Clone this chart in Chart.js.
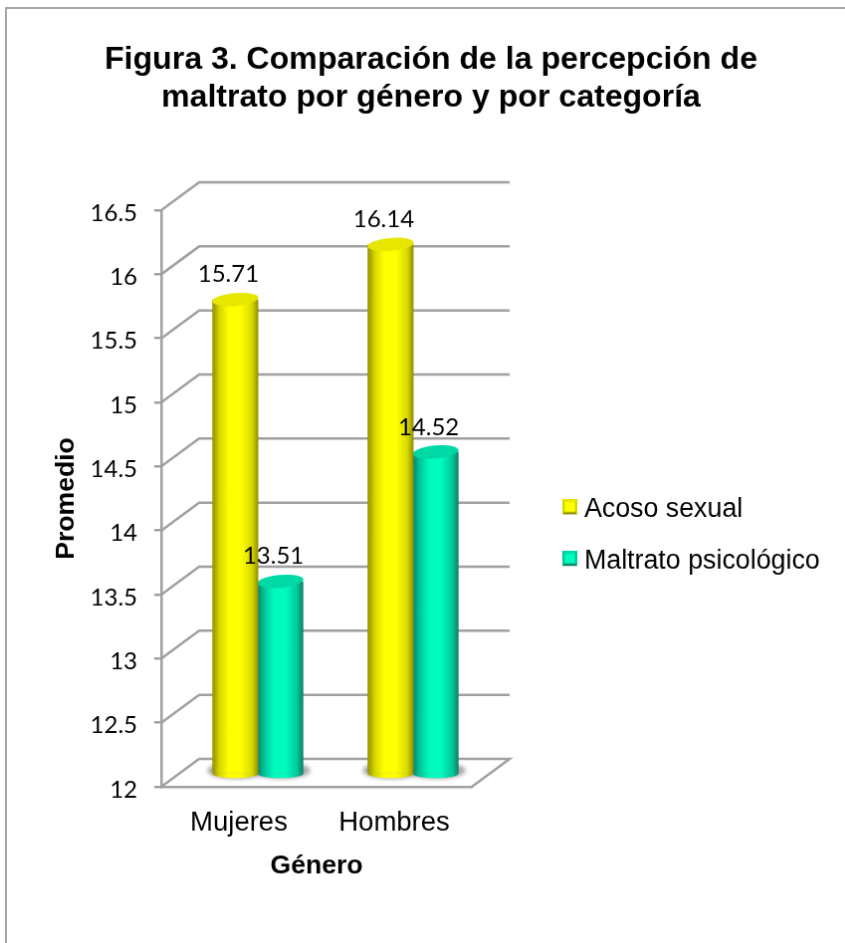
<!DOCTYPE html>
<html><head><meta charset="utf-8">
<style>
html,body{margin:0;padding:0;background:#fff;overflow:hidden;width:845px;height:943px}
#wrap{position:absolute;left:5px;top:7px}
canvas{display:block;border:2px solid #a6a6a6}
</style>
<script src="https://cdn.jsdelivr.net/npm/chart.js@4/dist/chart.umd.min.js"></script>
</head><body>
<div id="wrap"><canvas id="c" width="850" height="960"></canvas></div>
<script>
const titleLines = ['Figura 3. Comparación de la percepción de','maltrato por género y por categoría'];
const categories = ['Mujeres','Hombres'];
const seriesNames = ['Acoso sexual','Maltrato psicológico'];
const acoso = [15.71,16.14];
const maltrato = [13.51,14.52];
const yMin = 12, yMax = 16.5, yStep = 0.5;
const yTitle = 'Promedio', xTitle = 'Género';

const GRID='#a0a0a0';
const DEPTH={x:38,y:-28}, BAR={x:19,y:-12};
const CAT_PCT=0.58, BAR_PCT=1.02;
const PAL=[
 {edge:'#8f8f00',mid:'#d9d900',hi:'#ffff00',cap:'#e6e600'},
 {edge:'#0d7f66',mid:'#00c99c',hi:'#00fbbe',cap:'#00d8a6'}];

function barGrad(ctx,x0,x1,p){
  const g=ctx.createLinearGradient(x0,0,x1,0);
  g.addColorStop(0,p.edge);g.addColorStop(.16,p.mid);g.addColorStop(.36,p.hi);
  g.addColorStop(.62,p.hi);g.addColorStop(.86,p.mid);g.addColorStop(1,p.edge);
  return g;
}
function swatch(p){
  const c=document.createElement('canvas');c.width=15;c.height=21;
  const x=c.getContext('2d');
  x.fillStyle=p.mid;x.fillRect(0,0,15,15);
  x.fillStyle=p.edge;x.beginPath();x.moveTo(0,15);x.lineTo(15,15);x.lineTo(12.5,12.5);x.lineTo(2.5,12.5);x.fill();
  x.fillStyle=p.cap;x.beginPath();x.moveTo(0,0);x.lineTo(15,0);x.lineTo(12.5,2.5);x.lineTo(2.5,2.5);x.fill();
  x.fillStyle=p.hi;x.fillRect(2.5,2.5,10,10);
  return c;
}
const swatches=PAL.map(swatch);

const frame3d={id:'frame3d',
  afterLayout(ch){
    const l=ch.legend,pad=l.options.labels.padding;
    l.left=571.5-7-pad;l.right=ch.width;
    l.top=498.5-9-pad;l.bottom=ch.height;
    const t=ch.titleBlock;t.left=0;t.right=852;
  },
  beforeDatasetsDraw(ch){
    const c=ch.ctx,y=ch.scales.y,a=ch.chartArea;
    c.save();c.strokeStyle=GRID;c.lineWidth=2.5;c.lineJoin='miter';
    y.ticks.forEach(t=>{
      const p=y.getPixelForValue(t.value);
      if(t.value===yMin)return;
      c.beginPath();c.moveTo(a.left,p);c.lineTo(a.left+DEPTH.x,p+DEPTH.y);c.lineTo(a.right+DEPTH.x,p+DEPTH.y);c.stroke();
    });
    const b=y.getPixelForValue(yMin);
    c.beginPath();c.moveTo(a.left,b);c.lineTo(a.left+DEPTH.x,b+DEPTH.y);c.lineTo(a.right+DEPTH.x,b+DEPTH.y);c.lineTo(a.right,b);c.stroke();
    c.filter='blur(2px)';c.fillStyle='#a2a2a2';
    ch.getSortedVisibleDatasetMetas().forEach(m=>m.data.forEach(e=>{
      c.beginPath();c.ellipse(e.x+BAR.x+1,e.base+BAR.y-3,e.width/2+6,8,0,0,Math.PI*2);c.fill();
    }));
    c.restore();
    c.save();c.translate(BAR.x,BAR.y);
  },
  afterDatasetDraw(ch,args){
    const c=ch.ctx,m=args.meta,p=PAL[args.index];
    m.data.forEach(e=>{
      const x0=e.x-e.width/2,x1=e.x+e.width/2,rx=e.width/2;
      c.fillStyle=barGrad(c,x0,x1,p);
      c.beginPath();c.ellipse(e.x,e.base,rx,4.5,0,0,Math.PI);c.fill();
      c.fillStyle=barGrad(c,x0,x1,p);
      c.beginPath();c.ellipse(e.x,e.y,rx,6.5,-0.09,0,Math.PI);c.fill();
      c.fillStyle=p.cap;
      c.beginPath();c.ellipse(e.x,e.y,rx,6.5,-0.09,0,Math.PI*2);c.fill();
    });
  },
  afterDatasetsDraw(ch){
    const c=ch.ctx;c.restore();
    c.save();c.fillStyle='#000';c.font='24px Lato';c.textAlign='center';c.textBaseline='middle';
    ch.getSortedVisibleDatasetMetas().forEach(m=>m.data.forEach((e,i)=>{
      const v=ch.data.datasets[m.index].data[i];
      c.fillText(v.toFixed(2),e.x+BAR.x-7,e.y+BAR.y-25);
    }));
    c.restore();
  }
};

const mk=(i,d)=>({label:seriesNames[i],data:d,borderWidth:0,base:yMin,
  barPercentage:BAR_PCT,categoryPercentage:CAT_PCT,
  backgroundColor(ctx){
    const ch=ctx.chart,xs=ch.scales.x;
    if(!xs||ctx.dataIndex===undefined)return PAL[i].hi;
    const slot=xs.width/categories.length*CAT_PCT/2;
    const cx=xs.getPixelForValue(ctx.dataIndex)+(i-.5)*slot,w=slot*BAR_PCT;
    return barGrad(ch.ctx,cx-w/2,cx+w/2,PAL[i]);
  }});

new Chart(document.getElementById('c'),{
  type:'bar',
  data:{labels:categories,datasets:[mk(0,acoso),mk(1,maltrato)]},
  plugins:[frame3d],
  options:{
    responsive:false,animation:false,
    layout:{padding:{left:44,right:242,top:31.5,bottom:83}},
    plugins:{
      tooltip:{enabled:false},
      title:{display:true,text:titleLines,color:'#000',
        font:{family:'Liberation Sans',size:32.1,weight:'bold',lineHeight:1.2},
        padding:{top:0,bottom:93.5}},
      legend:{position:'right',align:'start',
        labels:{color:'#000',font:{family:'Liberation Sans',size:26.8},padding:25,boxWidth:2,boxHeight:2,
          usePointStyle:true,
          generateLabels(ch){return ch.data.datasets.map((d,i)=>({text:d.label,pointStyle:swatches[i],datasetIndex:i,fontColor:'#000',lineWidth:0,strokeStyle:'transparent'}));}}}
    },
    scales:{
      x:{afterFit(s){s.height=96;},
        grid:{display:false,drawTicks:false},
        border:{color:GRID,width:2.5},
        ticks:{color:'#000',padding:20,font:{family:'Liberation Sans',size:27.5}},
        title:{display:true,text:xTitle,color:'#000',font:{family:'Liberation Sans',size:26.6,weight:'bold'},padding:{top:0,bottom:0}}},
      y:{min:yMin,max:yMax,afterFit(s){s.width=111;},
        grid:{drawOnChartArea:false,drawTicks:true,tickLength:7,color:GRID,lineWidth:2.5},
        border:{color:GRID,width:2.5},
        ticks:{stepSize:yStep,color:'#000',padding:17,labelOffset:3,font:{family:'Lato',size:24},
          callback:v=>String(v)},
        title:{display:true,text:yTitle,color:'#000',font:{family:'Liberation Sans',size:26.6,weight:'bold'},padding:{top:0,bottom:0}}}
    }
  }
});
</script>
</body></html>
